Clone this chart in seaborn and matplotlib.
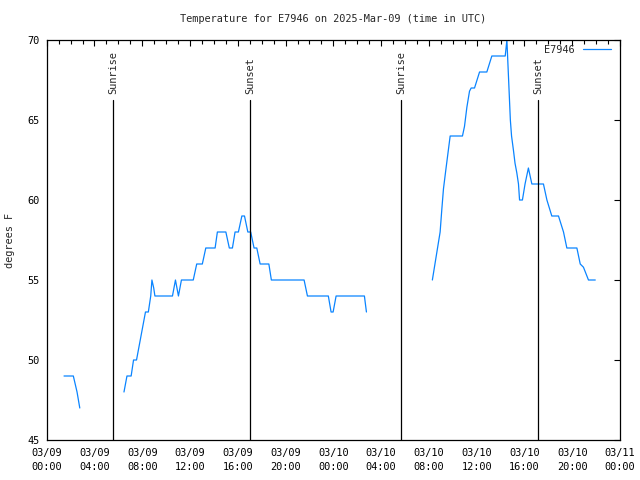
import matplotlib
matplotlib.use("Agg")
import matplotlib.pyplot as plt
import matplotlib.dates as mdates
from matplotlib.lines import Line2D
import seaborn as sns
import pandas as pd

# ---- data (hours since 2025-03-09 00:00 UTC, degrees F) ----
seg1_hours = [1.45, 2.23, 2.54, 2.77]
seg1_temps = [49, 49, 48, 47]

seg2_hours = [6.47, 6.72, 7.07, 7.27, 7.52, 7.77, 8.02, 8.27, 8.51, 8.71, 8.81, 8.96,
              9.06, 10.53, 10.78, 11.03, 11.28, 12.27, 12.56, 13.03, 13.32, 14.10,
              14.29, 15.00, 15.29, 15.55, 15.77, 16.05, 16.34, 16.56, 16.84, 17.08,
              17.36, 17.59, 17.87, 18.60, 18.81, 21.55, 21.83, 23.58, 23.81, 23.98,
              24.23, 26.60, 26.77]
seg2_temps = [48, 49, 49, 50, 50, 51, 52, 53, 53, 54, 55, 54.5,
              54, 54, 55, 54, 55, 55, 56, 56, 57, 57,
              58, 58, 57, 57, 58, 58, 59, 59, 58, 58,
              57, 57, 56, 56, 55, 55, 54, 54, 53, 53,
              54, 54, 53]

seg3_hours = [32.29, 32.94, 33.08, 33.22, 33.42, 33.78, 34.81, 34.98, 35.18, 35.40,
              35.54, 35.82, 36.24, 36.85, 37.27, 38.39, 38.53, 38.82, 38.92, 39.08,
              39.21, 39.36, 39.50, 39.59, 39.83, 40.05, 40.33, 40.62, 41.59, 41.88,
              42.29, 42.85, 43.27, 43.55, 44.39, 44.67, 44.94, 45.36, 45.93]
seg3_temps = [55, 58, 59.4, 60.7, 61.9, 64, 64, 64.6, 65.8, 66.8,
              67, 67, 68, 68, 69, 69, 70, 65, 64, 63.1,
              62.3, 61.7, 61, 60, 60, 61, 62, 61, 61, 60,
              59, 59, 58, 57, 57, 56, 55.8, 55, 55]

event_hours = [5.58, 17.05, 29.67, 41.17]
event_labels = ["Sunrise", "Sunset", "Sunrise", "Sunset"]

series_name = "E7946"
title = "Temperature for E7946 on 2025-Mar-09 (time in UTC)"
ylabel = "degrees F"

# ---- build table ----
start = pd.Timestamp("2025-03-09 00:00")
rows = []
for sid, (hs, ts) in enumerate([(seg1_hours, seg1_temps),
                                (seg2_hours, seg2_temps),
                                (seg3_hours, seg3_temps)]):
    for h, t in zip(hs, ts):
        rows.append({"time": start + pd.Timedelta(hours=h), "temp": t, "seg": sid})
df = pd.DataFrame(rows)

sns.set_style("white")
plt.rcParams["font.family"] = ["DejaVu Sans Mono", "DejaVu Sans"]
FS = 7.4
color = "#0a84ff"

fig = plt.figure(figsize=(6.4, 4.8), dpi=100)
ax = fig.add_axes([46.7 / 640, 40 / 480, (620 - 46.7) / 640, 400 / 480])

sns.lineplot(data=df, x="time", y="temp", units="seg", estimator=None,
             color=color, linewidth=0.9, ax=ax, legend=False)

ymin, ymax = 45, 70
ax.set_ylim(ymin, ymax)
ax.set_xlim(start, start + pd.Timedelta(hours=48))

for h, lab in zip(event_hours, event_labels):
    tx = start + pd.Timedelta(hours=h)
    ax.plot([tx, tx], [ymin, 66.25], color="black", linewidth=0.9)
    ax.text(tx, 66.65, lab, rotation=90, ha="center", va="bottom", fontsize=FS)

ax.xaxis.set_major_locator(mdates.HourLocator(byhour=[0, 4, 8, 12, 16, 20]))
ax.xaxis.set_minor_locator(mdates.HourLocator())
ax.xaxis.set_major_formatter(mdates.DateFormatter("%m/%d\n%H:%M"))
ax.set_yticks([45, 50, 55, 60, 65, 70])

ax.tick_params(axis="both", which="both", direction="in", top=True, right=True,
               labelsize=FS, colors="black", width=0.8)
ax.tick_params(axis="both", which="major", length=4.5)
ax.tick_params(axis="both", which="minor", length=3)
ax.tick_params(axis="x", which="major", pad=6)
ax.tick_params(axis="y", which="major", pad=5)
for lbl in ax.get_xticklabels():
    lbl.set_linespacing(1.5)

for s in ax.spines.values():
    s.set_visible(True)
    s.set_color("black")
    s.set_linewidth(0.9)

ax.set_xlabel("")
ax.set_ylabel("")
fig.text(10 / 640, 1 - 240 / 480, ylabel, rotation=90, ha="center", va="center", fontsize=FS)
fig.text(333 / 640, 1 - 19 / 480, title, ha="center", va="center", fontsize=FS)

handle = Line2D([], [], color=color, linewidth=0.9)
ax.legend([handle], [series_name], loc="upper right", frameon=False, markerfirst=False,
          fontsize=FS, handlelength=2.7, borderaxespad=0.0, borderpad=0.1,
          handletextpad=0.8, bbox_to_anchor=(612 / 640, 1 - 44 / 480),
          bbox_transform=fig.transFigure)

fig.savefig("out.png", dpi=100)
